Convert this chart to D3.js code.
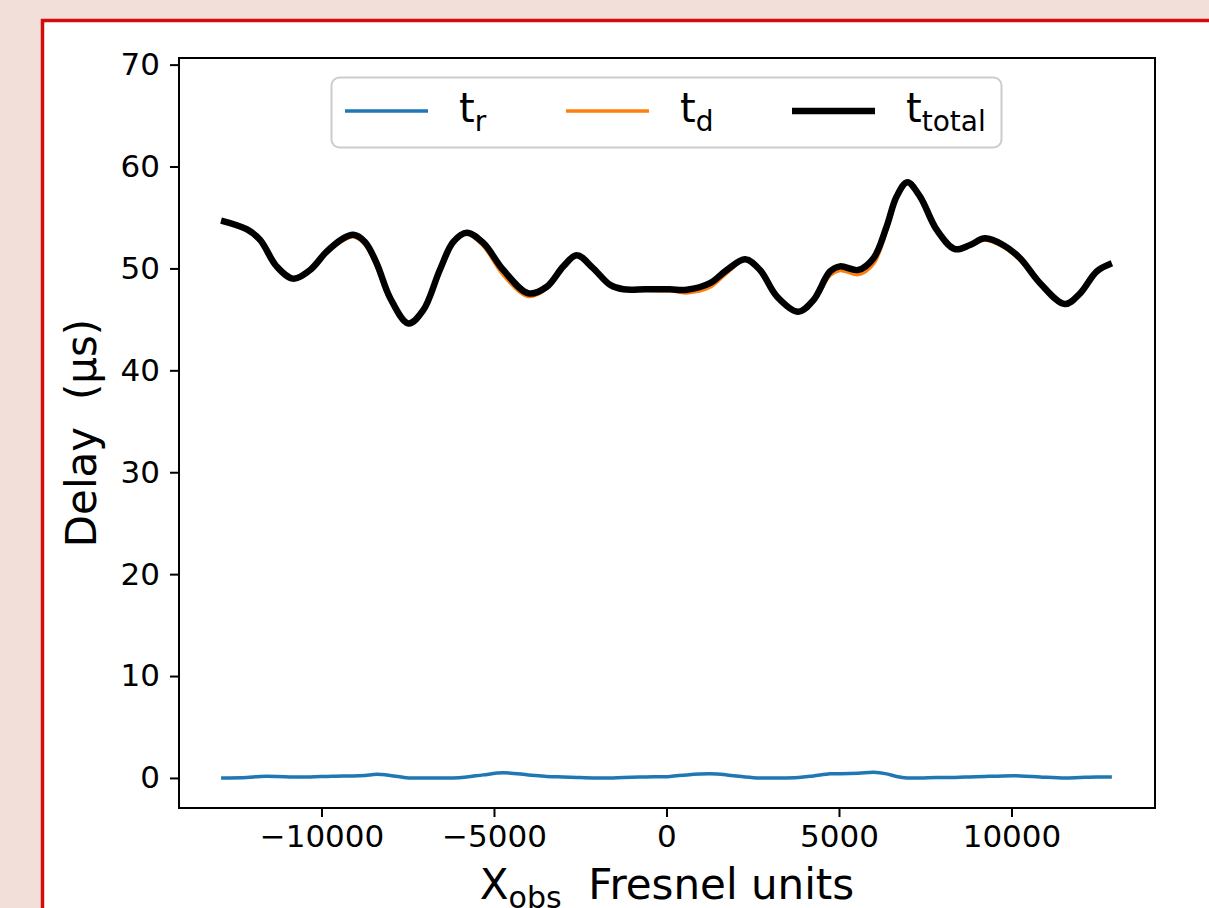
<!DOCTYPE html>
<html>
<head>
<meta charset="utf-8">
<script src="https://cdn.jsdelivr.net/npm/d3@7"></script>
<style>
  body { margin: 0; background: #f3dfd9; }
  svg { display: block; font-family: "DejaVu Sans", sans-serif; }
</style>
</head>
<body>
<svg id="chart"></svg>
<script>
// x positions (Fresnel units) shared by all three series
const xObs = [-12910, -12170, -11780, -11300, -10820, -10330, -9850, -9370, -9080, -8740,
  -8400, -8010, -7480, -7050, -6570, -6180, -5790, -5310, -4730, -4000,
  -3470, -2990, -2600, -2120, -1640, -1250, -600, 100, 590, 1260,
  1750, 2280, 2710, 3200, 3820, 4260, 4740, 5030, 5560, 6000,
  6380, 6670, 6980, 7350, 7830, 8360, 8800, 9230, 9760, 10250,
  10830, 11550, 11990, 12470, 12910];

const tR = [0.0, 0.05, 0.15, 0.15, 0.1, 0.1, 0.15, 0.2, 0.2, 0.25,
  0.35, 0.25, 0.0, 0.0, 0.0, 0.0, 0.1, 0.3, 0.5, 0.3,
  0.15, 0.1, 0.05, 0.0, 0.0, 0.05, 0.1, 0.15, 0.3, 0.4,
  0.3, 0.1, 0.0, 0.0, 0.05, 0.2, 0.4, 0.4, 0.45, 0.55,
  0.4, 0.15, 0.0, 0.0, 0.05, 0.05, 0.1, 0.15, 0.2, 0.2,
  0.1, 0.0, 0.05, 0.1, 0.1];

const tD = [54.7, 53.8, 52.65, 50.05, 48.9, 49.75, 51.5, 52.75, 53.1, 52.35,
  50.15, 46.85, 44.6, 45.9, 49.85, 52.6, 53.4, 52.2, 49.35, 47.25,
  48.05, 50.1, 51.25, 50.0, 48.4, 47.9, 47.85, 47.8, 47.6, 48.15,
  49.55, 50.8, 49.85, 47.25, 45.7, 46.7, 49.3, 49.8, 49.4, 50.45,
  53.7, 56.9, 58.45, 57.05, 53.75, 51.85, 52.2, 52.8, 52.1, 50.8,
  48.45, 46.5, 47.5, 49.6, 50.4];

const tTotal = [54.7, 53.85, 52.8, 50.2, 49.0, 49.85, 51.65, 52.95, 53.3, 52.6,
  50.5, 47.1, 44.6, 45.9, 49.85, 52.6, 53.5, 52.5, 49.85, 47.55,
  48.2, 50.2, 51.3, 50.0, 48.4, 47.95, 47.95, 47.95, 47.9, 48.55,
  49.85, 50.9, 49.85, 47.25, 45.75, 46.9, 49.7, 50.2, 49.85, 51.0,
  54.1, 57.05, 58.45, 57.05, 53.8, 51.9, 52.3, 52.95, 52.3, 51.0,
  48.55, 46.5, 47.55, 49.7, 50.5];

const xTicks = [-10000, -5000, 0, 5000, 10000];
const yTicks = [0, 10, 20, 30, 40, 50, 60, 70];

const W = 1209, H = 908;
const svg = d3.select('#chart').attr('width', W).attr('height', H);

// page frame
svg.append('rect').attr('x', 0).attr('y', 0).attr('width', W).attr('height', H).attr('fill', '#f3dfd9');
svg.append('rect')
  .attr('x', 42.5).attr('y', 20.5).attr('width', W + 20).attr('height', H + 20)
  .attr('fill', '#ffffff').attr('stroke', '#d40c0c').attr('stroke-width', 3.5);

const plotL = 179, plotR = 1155, plotT = 58, plotB = 808;

const x = d3.scaleLinear().domain([-14130, 14160]).range([plotL, plotR]);
const y = d3.scaleLinear().domain([-2.95, 70.65]).range([plotB, plotT]);

// series
const series = [
  { name: 'r', values: tR, color: '#1f77b4', width: 3.5 },
  { name: 'd', values: tD, color: '#ff7f0e', width: 3.5 },
  { name: 'total', values: tTotal, color: '#000000', width: 6.5 },
];

const line = d3.line()
  .x((d) => x(d[0]))
  .y((d) => y(d[1]))
  .curve(d3.curveCatmullRom.alpha(0.5));

svg.append('g')
  .selectAll('path')
  .data(series)
  .join('path')
  .attr('d', (s) => line(xObs.map((v, i) => [v, s.values[i]])))
  .attr('fill', 'none')
  .attr('stroke', (s) => s.color)
  .attr('stroke-width', (s) => s.width)
  .attr('stroke-linejoin', 'round');

// axes
const xAxis = svg.append('g')
  .attr('transform', `translate(0,${plotB})`)
  .call(d3.axisBottom(x).tickValues(xTicks).tickSize(9).tickPadding(8)
    .tickFormat((d) => d3.format('d')(d).replace('-', '\u2212')));
const yAxis = svg.append('g')
  .attr('transform', `translate(${plotL},0)`)
  .call(d3.axisLeft(y).tickValues(yTicks).tickSize(9).tickPadding(10));

[xAxis, yAxis].forEach((g) => {
  g.select('.domain').remove();
  g.selectAll('.tick line').attr('stroke', '#000').attr('stroke-width', 2);
  g.selectAll('.tick text').attr('fill', '#000')
    .style('font-size', '31px').style('font-family', '"DejaVu Sans", sans-serif');
});

svg.append('rect')
  .attr('x', plotL).attr('y', plotT).attr('width', plotR - plotL).attr('height', plotB - plotT)
  .attr('fill', 'none').attr('stroke', '#000').attr('stroke-width', 2);

// axis labels
svg.append('text')
  .attr('transform', `translate(96,${(plotT + plotB) / 2}) rotate(-90)`)
  .attr('text-anchor', 'middle')
  .style('font-size', '42px')
  .style('white-space', 'pre')
  .text('Delay  (\u00b5s)');

const xl = svg.append('text')
  .attr('x', (plotL + plotR) / 2).attr('y', 899)
  .attr('text-anchor', 'middle')
  .style('font-size', '42px')
  .style('white-space', 'pre');
xl.append('tspan').text('X');
xl.append('tspan').attr('dy', 9).style('font-size', '30px').text('obs');
xl.append('tspan').attr('dy', -9).text('  Fresnel units');

// legend
const legend = svg.append('g');
legend.append('rect')
  .attr('x', 331.5).attr('y', 77.5).attr('width', 670).attr('height', 70)
  .attr('rx', 8).attr('fill', '#ffffff').attr('fill-opacity', 0.8)
  .attr('stroke', '#cccccc').attr('stroke-width', 2);

const legendX = [345, 566, 792];
const items = legend.selectAll('g.item')
  .data(series)
  .join('g')
  .attr('class', 'item')
  .attr('transform', (d, i) => `translate(${legendX[i]},111)`);
items.append('line')
  .attr('x1', 0).attr('x2', 83).attr('y1', 0).attr('y2', 0)
  .attr('stroke', (d) => d.color)
  .attr('stroke-width', (d) => d.width);
const lt = items.append('text')
  .attr('x', 114).attr('y', 11)
  .style('font-size', '40px');
lt.append('tspan').text('t');
lt.append('tspan').attr('dy', 9).style('font-size', '28px').text((d) => d.name);
</script>
</body>
</html>
